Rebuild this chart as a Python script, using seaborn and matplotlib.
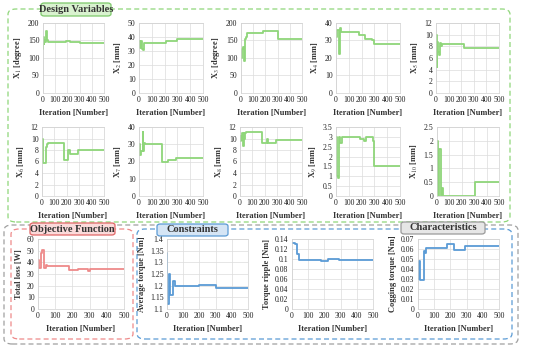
import numpy as np
import pandas as pd
import matplotlib
matplotlib.use('Agg')
import matplotlib.pyplot as plt
from matplotlib.patches import FancyBboxPatch
import seaborn as sns

sns.set_style("whitegrid")
plt.rcParams['font.family'] = ['Liberation Serif', 'DejaVu Serif']
plt.rcParams['mathtext.fontset'] = 'stix'

# Datos (iteracion, valor) - curvas escalonadas
x1_it = [0, 3, 6, 10, 20, 28, 33, 40, 50, 190, 220, 300, 500]
x1_val = [125, 160, 140, 150, 145, 178, 150, 147, 145, 148, 145, 143, 143]

x2_it = [0, 8, 12, 25, 35, 40, 210, 300, 500]
x2_val = [37, 32, 37, 31.5, 30.5, 36, 37, 38.5, 38.5]

x3_it = [0, 5, 15, 28, 33, 40, 50, 180, 300, 500]
x3_val = [100, 125, 130, 90, 155, 160, 170, 178, 155, 155]

x4_it = [0, 10, 22, 28, 35, 42, 180, 230, 285, 295, 500]
x4_val = [32, 36, 22, 35, 37, 35, 33, 31, 30, 28, 28]

x5_it = [0, 4, 8, 18, 25, 35, 42, 50, 220, 500]
x5_val = [10, 4.5, 8.7, 7, 6.5, 8.5, 8, 8.4, 7.7, 7.7]

x6_it = [0, 5, 12, 30, 40, 50, 180, 210, 225, 290, 500]
x6_val = [10, 6.8, 5.8, 8.5, 9, 9.2, 6.2, 8, 7.3, 8, 8]

x7_it = [0, 3, 6, 15, 30, 35, 40, 45, 180, 230, 290, 500]
x7_val = [24, 30, 24, 26, 37, 26, 31, 30, 20, 21, 22, 22]

x8_it = [0, 5, 10, 15, 25, 30, 35, 42, 50, 180, 215, 225, 290, 500]
x8_val = [9.5, 10.5, 9.8, 11, 8.7, 11, 10, 11, 11.2, 9.3, 10, 9.2, 9.8, 9.8]

x9_it = [0, 5, 12, 25, 35, 45, 190, 220, 235, 290, 300, 500]
x9_val = [3, 1, 0.9, 3, 2.7, 3, 2.9, 2.8, 3, 2.8, 1.5, 1.5]

x10_it = [0, 5, 10, 15, 30, 40, 47, 310, 500]
x10_val = [2, 1.7, 0, 1.7, 0, 0.3, 0, 0.5, 0.5]

loss_it = [0, 5, 15, 25, 35, 45, 50, 180, 230, 290, 305, 500]
loss_val = [42, 35, 48, 51, 35, 38, 37, 33.5, 34.5, 33, 34.5, 34.5]

torque_it = [0, 3, 10, 20, 35, 40, 50, 200, 300, 500]
torque_val = [1.34, 1.12, 1.25, 1.16, 1.19, 1.22, 1.2, 1.202, 1.19, 1.19]

ripple_it = [0, 20, 30, 45, 180, 220, 290, 500]
ripple_val = [0.133, 0.13, 0.11, 0.098, 0.096, 0.1, 0.098, 0.098]

cog_it = [0, 5, 15, 35, 45, 50, 180, 220, 290, 500]
cog_val = [0.03, 0.048, 0.029, 0.058, 0.056, 0.061, 0.065, 0.059, 0.063, 0.063]

verde = '#8fd67a'
rojo = '#ee8a8a'
azul = '#5b9bd5'

W, H = 550, 351
fig = plt.figure(figsize=(5.5, 3.51), dpi=100)


def caja(x0, y0, x1, y1, color, lw=0.9):
    # caja discontinua redondeada en pixeles
    p = FancyBboxPatch((x0 / W, 1 - y1 / H), (x1 - x0) / W, (y1 - y0) / H,
                       boxstyle="round,pad=0,rounding_size=0.015",
                       transform=fig.transFigure, fill=False,
                       edgecolor=color, linestyle=(0, (4, 2.5)), linewidth=lw)
    fig.patches.append(p)


def etiqueta(x0, y0, x1, y1, texto, borde, fondo):
    p = FancyBboxPatch((x0 / W, 1 - y1 / H), (x1 - x0) / W, (y1 - y0) / H,
                       boxstyle="round,pad=0,rounding_size=0.006",
                       transform=fig.transFigure, facecolor=fondo,
                       edgecolor=borde, linewidth=0.9, zorder=5)
    fig.patches.append(p)
    fig.text((x0 + x1) / 2 / W, 1 - (y0 + y1) / 2 / H, texto, ha='center', va='center',
             fontsize=7.5, fontweight='bold', color='#333333', zorder=6)


def panel(px, ylabel, it, val, color, ylim, ystep, yfmt):
    x0, y0, x1, y1 = px
    ax = fig.add_axes([x0 / W, 1 - y1 / H, (x1 - x0) / W, (y1 - y0) / H])
    df = pd.DataFrame({'it': it, 'val': val})
    sns.lineplot(data=df, x='it', y='val', ax=ax, color=color, linewidth=1.3,
                 drawstyle='steps-post')
    ax.set_xlim(0, 500)
    ax.set_ylim(*ylim)
    ax.set_xticks(np.arange(0, 501, 100))
    ax.set_yticks(np.arange(ylim[0], ylim[1] + ystep / 2, ystep))
    ax.set_yticklabels([yfmt(v) for v in np.arange(ylim[0], ylim[1] + ystep / 2, ystep)])
    ax.tick_params(labelsize=5.6, length=0, pad=2.5, colors='#222222')
    ax.grid(True, color='#dcdcdc', linewidth=0.5)
    for s in ax.spines.values():
        s.set_color('#d0d0d0')
        s.set_linewidth(0.5)
    ax.set_xlabel('Iteration [Number]', fontsize=6, fontweight='bold', labelpad=3, color='#333333')
    ax.set_ylabel(ylabel, fontsize=6, fontweight='bold', labelpad=3, color='#333333')
    return ax


def f_int(v):
    return '%d' % round(v)


def f_g(v):
    return ('%g' % round(v, 3))


# cajas de fondo
caja(8, 9, 510, 222, verde)
caja(4, 225, 518, 344, '#a0a0a0')
caja(11, 229, 133, 339, rojo)
caja(137, 229, 512, 339, azul)

fila1 = [(43, 23, 104, 93), (139, 23, 203, 93), (241, 23, 302, 93), (336, 23, 400, 93), (436, 23, 499, 93)]
fila2 = [(42, 127, 104, 196), (139, 127, 203, 196), (240, 127, 302, 196), (336, 127, 400, 196), (437, 127, 499, 196)]
fila3 = [(38, 239, 124, 309), (167, 239, 248, 309), (292, 239, 373, 309), (418, 239, 499, 309)]

panel(fila1[0], r'X$_1$ [degree]', x1_it, x1_val, verde, (0, 200), 50, f_int)
panel(fila1[1], r'X$_2$ [mm]', x2_it, x2_val, verde, (0, 50), 10, f_int)
panel(fila1[2], r'X$_3$ [degree]', x3_it, x3_val, verde, (0, 200), 50, f_int)
panel(fila1[3], r'X$_4$ [mm]', x4_it, x4_val, verde, (0, 40), 10, f_int)
panel(fila1[4], r'X$_5$ [mm]', x5_it, x5_val, verde, (0, 12), 2, f_int)

panel(fila2[0], r'X$_6$ [mm]', x6_it, x6_val, verde, (0, 12), 2, f_int)
panel(fila2[1], r'X$_7$ [mm]', x7_it, x7_val, verde, (0, 40), 10, f_int)
panel(fila2[2], r'X$_8$ [mm]', x8_it, x8_val, verde, (0, 12), 2, f_int)
panel(fila2[3], r'X$_9$ [mm]', x9_it, x9_val, verde, (0, 3.5), 0.5, f_g)
panel(fila2[4], r'X$_{10}$ [mm]', x10_it, x10_val, verde, (0, 2.5), 0.5, f_g)

panel(fila3[0], 'Total loss [W]', loss_it, loss_val, rojo, (0, 60), 10, f_int)
panel(fila3[1], 'Average torque [Nm]', torque_it, torque_val, azul, (1.1, 1.4), 0.05, f_g)
panel(fila3[2], 'Torque ripple [Nm]', ripple_it, ripple_val, azul, (0, 0.14), 0.02, f_g)
panel(fila3[3], 'Cogging torque [Nm]', cog_it, cog_val, azul, (0, 0.07), 0.01, f_g)

# etiquetas de los grupos
etiqueta(41, 3, 111, 16, 'Design Variables', '#7cc86a', '#d9f2cf')
etiqueta(30, 223, 115, 235, 'Objective Function', '#e06666', '#fbdada')
etiqueta(157, 224, 228, 236, 'Constraints', '#5b9bd5', '#d5e5f5')
etiqueta(401, 222, 485, 234, 'Characteristics', '#9a9a9a', '#e6e6e6')

fig.savefig('out.png', dpi=100)
